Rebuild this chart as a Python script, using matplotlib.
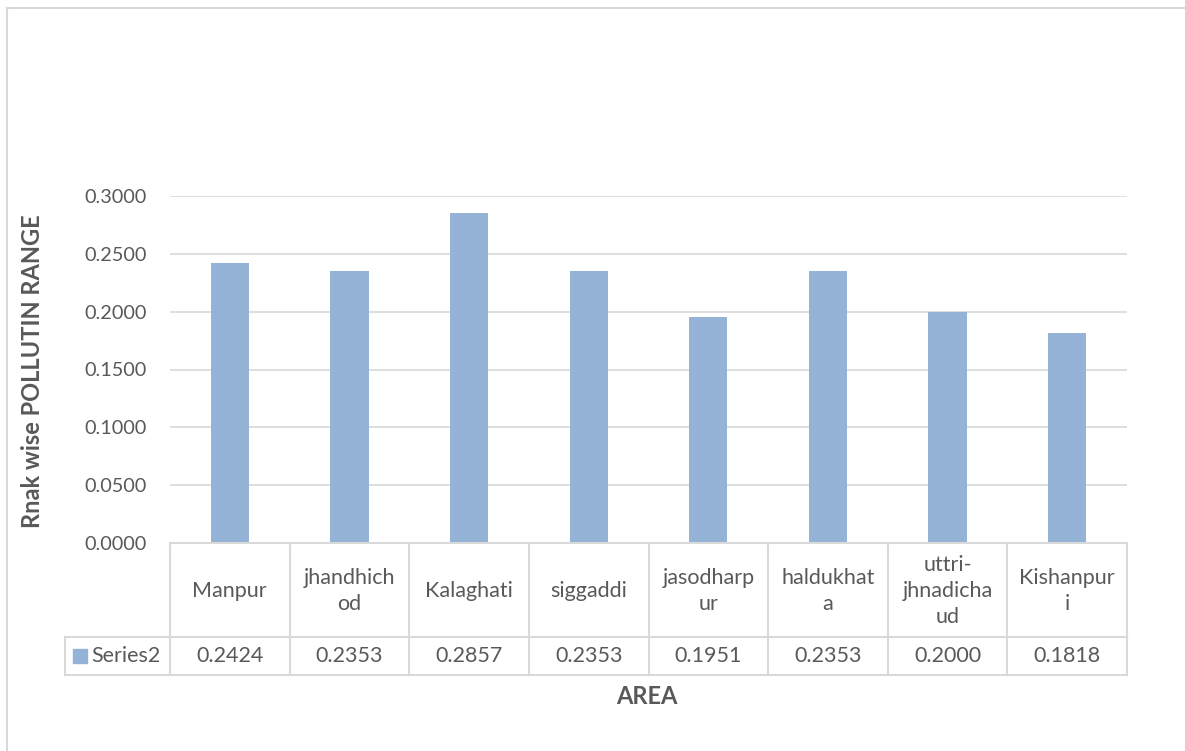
import matplotlib
matplotlib.use("Agg")
import matplotlib.pyplot as plt
from matplotlib.lines import Line2D
from matplotlib.patches import Rectangle
from matplotlib.transforms import blended_transform_factory

# Data
areas = ['Manpur', 'jhandhich\nod', 'Kalaghati', 'siggaddi', 'jasodharp\nur',
         'haldukhat\na', 'uttri-\njhnadicha\nud', 'Kishanpur\ni']
series2 = [0.2424, 0.2353, 0.2857, 0.2353, 0.1951, 0.2353, 0.2000, 0.1818]
yticks = [0.0, 0.05, 0.10, 0.15, 0.20, 0.25, 0.30]

plt.rcParams['font.family'] = ['Lato', 'DejaVu Sans']
txt = '#595959'
grid = '#d9d9d9'
bar_c = '#95b3d7'

W, H = 1185, 751
fig = plt.figure(figsize=(W / 100, H / 100), dpi=100)

def fx(px):
    return px / W

def fy(py):
    return 1 - py / H

ax = fig.add_axes([fx(170), fy(543), fx(1127) - fx(170), fy(196) - fy(543)])
x = list(range(len(areas)))
ax.bar(x, series2, width=0.32, color=bar_c, zorder=3)
ax.set_xlim(-0.5, len(areas) - 0.5)
ax.set_ylim(0, 0.3)
ax.set_yticks(yticks)
ax.set_yticklabels(['%.4f' % v for v in yticks])
ax.tick_params(axis='y', length=0, pad=17, labelsize=14.3, labelcolor=txt)
ax.tick_params(axis='x', length=0, labelbottom=False)
ax.yaxis.grid(True, color=grid, lw=1.2, zorder=0)
for s in ax.spines.values():
    s.set_visible(False)

# data table below the axis
bt = blended_transform_factory(ax.transData, fig.transFigure)
y0, y1, y2 = fy(543), fy(637), fy(675)
lw = 1.5
fig.add_artist(Line2D([-0.5, len(areas) - 0.5], [y0, y0], transform=bt, color=grid, lw=lw))
for yy in (y1, y2):
    fig.add_artist(Line2D([fx(65), fx(1127)], [yy, yy], transform=fig.transFigure, color=grid, lw=lw))
for i in range(len(areas) + 1):
    fig.add_artist(Line2D([i - 0.5, i - 0.5], [y0, y2], transform=bt, color=grid, lw=lw))
fig.add_artist(Line2D([fx(65), fx(65)], [y1, y2], transform=fig.transFigure, color=grid, lw=lw))

for i, (name, v) in enumerate(zip(areas, series2)):
    fig.text(i, fy(591), name, transform=bt, ha='center', va='center',
             fontsize=15.5, color=txt, linespacing=1.35)
    fig.text(i, (y1 + y2) / 2, '%.4f' % v, transform=bt, ha='center', va='center',
             fontsize=15.5, color=txt)

# legend key cell
fig.add_artist(Rectangle((fx(73), fy(663)), fx(87) - fx(73), fy(649) - fy(663),
                         transform=fig.transFigure, color=bar_c))
fig.text(fx(91), (y1 + y2) / 2, 'Series2', ha='left', va='center', fontsize=15.5, color=txt)

# axis titles
fig.text(fx(33), fy(371), 'Rnak wise POLLUTIN RANGE', rotation=90, ha='center', va='center',
         fontsize=17, fontweight='bold', color=txt)
fig.text(fx(647), fy(697), 'AREA', ha='center', va='center', fontsize=17,
         fontweight='bold', color=txt)

# chart frame (left and top edges)
fig.add_artist(Line2D([fx(7), fx(7)], [fy(8), 0], transform=fig.transFigure, color=grid, lw=1.5))
fig.add_artist(Line2D([fx(7), 1], [fy(8), fy(8)], transform=fig.transFigure, color=grid, lw=1.5))

fig.savefig('out.png', dpi=100)
